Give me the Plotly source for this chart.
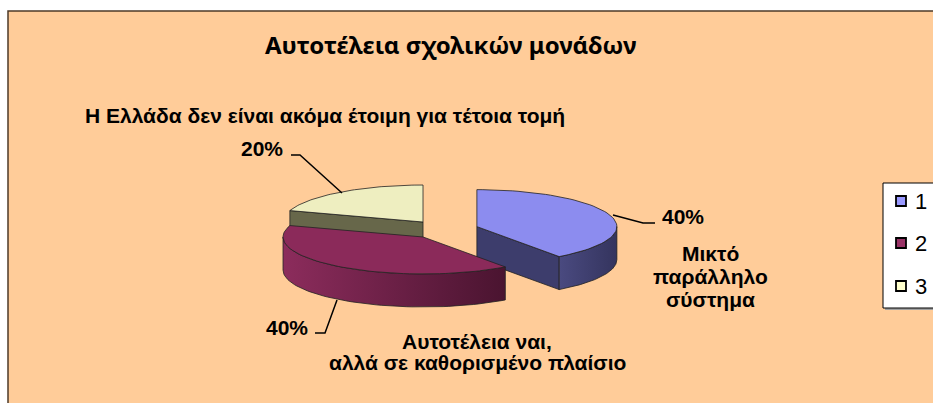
import numpy as np
import plotly.graph_objects as go

# --- data -------------------------------------------------------------
categories = ["1", "2", "3"]
shares = [40, 40, 20]
slice_names = [
    ["Μικτό", "παράλληλο", "σύστημα"],
    ["Αυτοτέλεια ναι,", "αλλά σε καθορισμένο πλαίσιο"],
    ["Η Ελλάδα δεν είναι ακόμα έτοιμη για τέτοια τομή"],
]
title_text = "Αυτοτέλεια σχολικών μονάδων"

legend_colors = ["#9999FF", "#993366", "#FFFFCC"]
top_colors = ["#8C8CEF", "#8B2A5A", "#EEEEC0"]
cut_colors = ["#3D3D6C", "#6A2046", "#67674A"]
side_gradients = [
    [[0, "#4A4A80"], [1, "#34345E"]],
    [[0, "#8C2C5C"], [1, "#4A1430"]],
    [[0, "#77775A"], [1, "#55553C"]],
]

# --- geometry of the tilted pie (pixel space) ---------------------------
W, H = 933, 403
CX, CY = 443.6, 229.5
RX, RY = 140.0, 37.0
DEPTH = 33.0
EXPLODE = 0.25
FONT = "Arial, Liberation Sans, sans-serif"
TITLE_FONT = "Noto Sans, Open Sans, sans-serif"


def pt(cx, cy, deg, drop=0.0):
    t = np.radians(deg)
    return cx + RX * np.sin(t), cy - RY * np.cos(t) + drop


def arc(cx, cy, a, b, drop=0.0, n=60):
    th = np.linspace(a, b, n)
    xs, ys = pt(cx, cy, th, drop)
    return list(xs), list(ys)


edge = dict(color="#222222", width=0.8)


def poly(xs, ys, fill=None, gradient=None):
    kw = dict(x=xs, y=ys, mode="lines", fill="toself", line=edge,
              hoverinfo="skip", showlegend=False)
    if gradient is not None:
        kw["fillgradient"] = dict(type="horizontal", colorscale=gradient)
    else:
        kw["fillcolor"] = fill
    return go.Scatter(**kw)


slice_traces = {}
start = 0.0
for i, v in enumerate(shares):
    a, b = start, start + v * 3.6
    start = b
    mid = np.radians((a + b) / 2)
    cx = CX + RX * EXPLODE * np.sin(mid)
    cy = CY - RY * EXPLODE * np.cos(mid)
    parts = []
    # radial cut faces facing the viewer
    for ang, normal in ((a, a - 90), (b, b + 90)):
        if np.cos(np.radians(normal)) < -1e-6:
            x1, y1 = pt(cx, cy, ang)
            x2, y2 = pt(cx, cy, ang, DEPTH)
            parts.append(poly([cx, x1, x2, cx, cx], [cy, y1, y2, cy + DEPTH, cy],
                              fill=cut_colors[i]))
    # outer rim on the front half
    lo, hi = max(a, 90.0), min(b, 270.0)
    if hi > lo:
        tx, ty = arc(cx, cy, lo, hi)
        bx, by = arc(cx, cy, hi, lo, DEPTH)
        parts.append(poly(tx + bx + [tx[0]], ty + by + [ty[0]],
                          gradient=side_gradients[i]))
    # top surface
    tx, ty = arc(cx, cy, a, b)
    parts.append(poly([cx] + tx + [cx], [cy] + ty + [cy], fill=top_colors[i]))
    slice_traces[i] = parts

fig = go.Figure()
for i in (2, 0, 1):
    for tr in slice_traces[i]:
        fig.add_trace(tr)

# leader lines
leaders = [
    ([613, 628, 643, 655], [215, 219, 223, 223]),
    ([315, 325, 337], [333, 333, 300]),
    ([291, 300, 342], [155, 155, 193]),
]
for lx, ly in leaders:
    fig.add_trace(go.Scatter(x=lx, y=ly, mode="lines",
                             line=dict(color="black", width=1.5),
                             hoverinfo="skip", showlegend=False))

# legend markers
legend_y = [201, 243, 286]
fig.add_trace(go.Scatter(
    x=[901] * 3, y=legend_y, mode="markers",
    marker=dict(symbol="square", size=10, color=legend_colors,
                line=dict(color="black", width=1.8)),
    hoverinfo="skip", showlegend=False))

ann = []


def label(x, y, text, size, bold=True, xanchor="center", family=FONT):
    ann.append(dict(x=x, y=y, text=f"<b>{text}</b>" if bold else text,
                    showarrow=False, xanchor=xanchor, yanchor="middle",
                    font=dict(family=family, size=size, color="black")))


label(450, 44, title_text, 24, family=TITLE_FONT)
pct_pos = [(683, 216), (287, 327), (262, 148)]
for (x, y), v in zip(pct_pos, shares):
    label(x, y, f"{v}%", 21)
name_pos = [(710, [253, 276, 299]), (477, [341, 362]), (325, [115])]
for (x, ys), lines in zip(name_pos, slice_names):
    for y, line in zip(ys, lines):
        label(x, y, line, 21)
for y, c in zip(legend_y, categories):
    label(913, y, c, 22, bold=False, xanchor="left")

shapes = [
    dict(type="rect", xref="x", yref="y", x0=8, y0=11, x1=950, y1=420,
         fillcolor="#FFCC99", line=dict(color="#4E3A28", width=1.5),
         layer="below"),
    dict(type="rect", xref="x", yref="y", x0=885, y0=185, x1=950, y1=310,
         fillcolor="#A0A0A0", line=dict(width=0), layer="below"),
    dict(type="rect", xref="x", yref="y", x0=883, y0=183, x1=950, y1=308,
         fillcolor="white", line=dict(color="black", width=1), layer="below"),
]

fig.update_layout(
    width=W, height=H,
    margin=dict(l=0, r=0, t=0, b=0),
    paper_bgcolor="white", plot_bgcolor="rgba(0,0,0,0)",
    xaxis=dict(range=[0, W], visible=False, fixedrange=True),
    yaxis=dict(range=[H, 0], visible=False, fixedrange=True),
    shapes=shapes, annotations=ann, showlegend=False,
)

fig.write_html("out.html", config={"displayModeBar": False})
